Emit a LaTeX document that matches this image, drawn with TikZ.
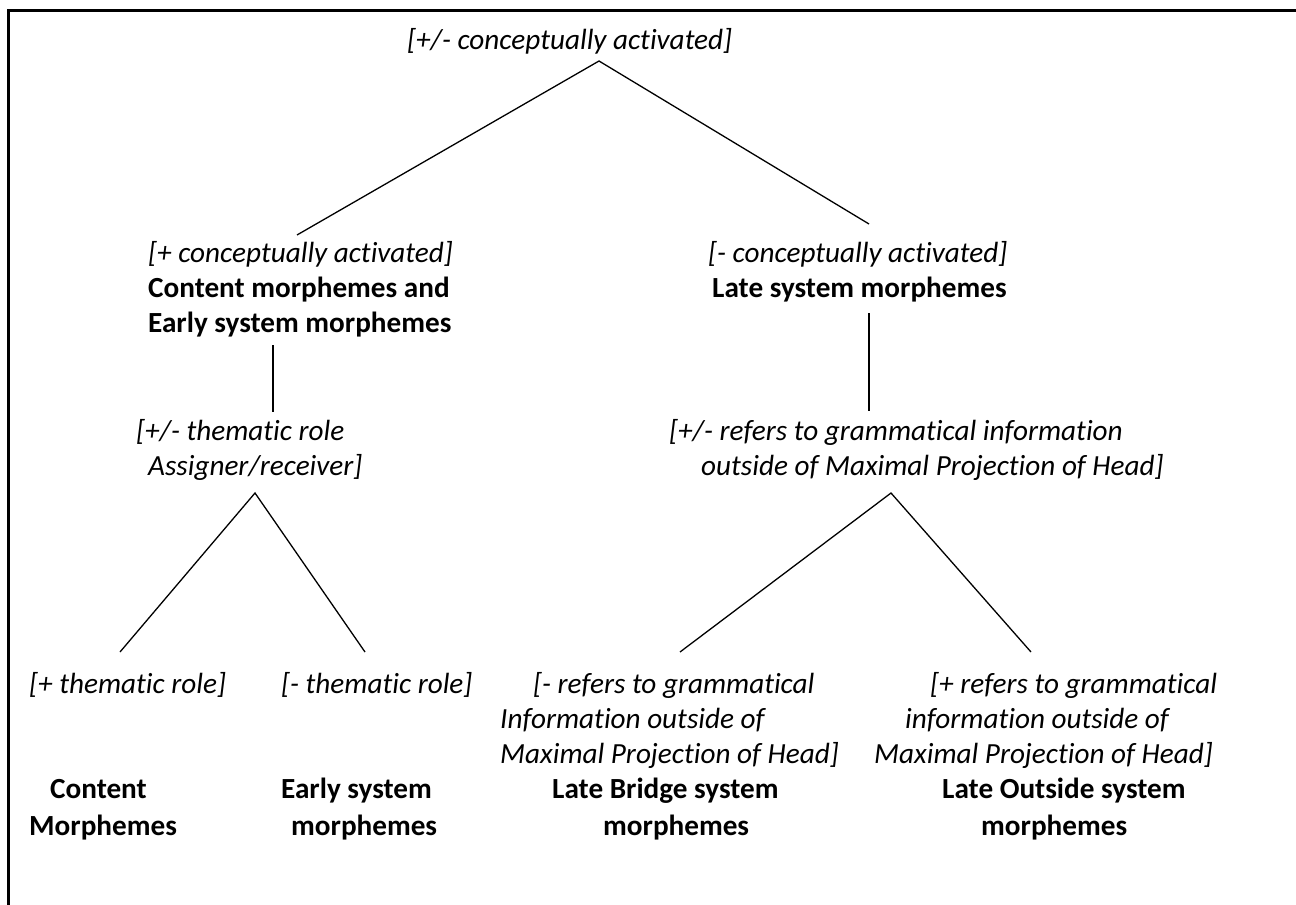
\documentclass[tikz,border=0pt]{standalone}
\usepackage{fontspec}
\setmainfont{Carlito}[Ligatures={NoCommon,NoContextual}]
\begin{document}
\begin{tikzpicture}[x=1pt,y=-1pt,
  txt/.style={inner sep=0pt, anchor=base west, font=\fontsize{29.2}{36}\selectfont},
  feat/.style={txt, font=\fontsize{29.2}{36}\selectfont\itshape},
  cat/.style={txt, font=\fontsize{29.2}{36}\selectfont\bfseries},
  branch/.style={line width=1.3pt, black},
  frame/.style={line width=2.6pt, black}]
\useasboundingbox (0,0) rectangle (1296,905);
% frame
\coordinate (fbl) at (8.3,905);
\coordinate (ftl) at (8.3,10.3);
\coordinate (ftr) at (1296,10.3);
\draw[frame] (fbl) -- (ftl) -- (ftr);

% texts
\node[feat] (root) at (407,49) {[+/- conceptually activated]};

\node[feat] (lf) at (148,262) {[+ conceptually activated]};
\node[cat] (lc1) at (148,297) {Content morphemes and};
\node[cat] (lc2) at (148,332) {Early system morphemes};

\node[feat] (rf) at (708,262) {[- conceptually activated]};
\node[cat] (rc) at (712,297) {Late system morphemes};

\node[feat] (tr1) at (136,440) {[+/- thematic role};
\node[feat] (tr2) at (148,475) {Assigner/receiver]};

\node[feat] (gr1) at (669,440) {[+/- refers to grammatical information};
\node[feat] (gr2) at (701,475) {outside of Maximal Projection of Head]};

\node[feat] (ptr) at (29,693) {[+ thematic role]};
\node[feat] (mtr) at (281,693) {[- thematic role]};

\node[feat] (mg1) at (533,693) {[- refers to grammatical};
\node[feat] (mg2) at (500,728) {Information outside of};
\node[feat] (mg3) at (500,763) {Maximal Projection of Head]};

\node[feat] (pg1) at (930,693) {[+ refers to grammatical};
\node[feat] (pg2) at (905,728) {information outside of};
\node[feat] (pg3) at (874,763) {Maximal Projection of Head]};

\node[cat] (cm1) at (50,798) {Content};
\node[cat] (cm2) at (29,835) {Morphemes};
\node[cat] (es1) at (281,798) {Early system};
\node[cat] (es2) at (291,835) {morphemes};
\node[cat] (lb1) at (552,798) {Late Bridge system};
\node[cat] (lb2) at (603,835) {morphemes};
\node[cat] (lo1) at (942,798) {Late Outside system};
\node[cat] (lo2) at (981,835) {morphemes};

% connector end points
\coordinate (root-b) at (599,61);
\coordinate (lf-t) at (297,235);
\coordinate (rf-t) at (869,224);
\coordinate (lc-b) at (273,345);
\coordinate (tr-t) at (273,412);
\coordinate (rc-b) at (869,313);
\coordinate (gr-t) at (869,411);
\coordinate (tr-b) at (255,493);
\coordinate (ptr-t) at (120,652);
\coordinate (mtr-t) at (365,652);
\coordinate (gr-b) at (891,493);
\coordinate (mg-t) at (680,652);
\coordinate (pg-t) at (1031,652);

\draw[branch] (lf-t) -- (root-b) -- (rf-t);
\draw[branch] (lc-b) -- (tr-t);
\draw[branch] (rc-b) -- (gr-t);
\draw[branch] (ptr-t) -- (tr-b) -- (mtr-t);
\draw[branch] (mg-t) -- (gr-b) -- (pg-t);
\end{tikzpicture}
\end{document}
